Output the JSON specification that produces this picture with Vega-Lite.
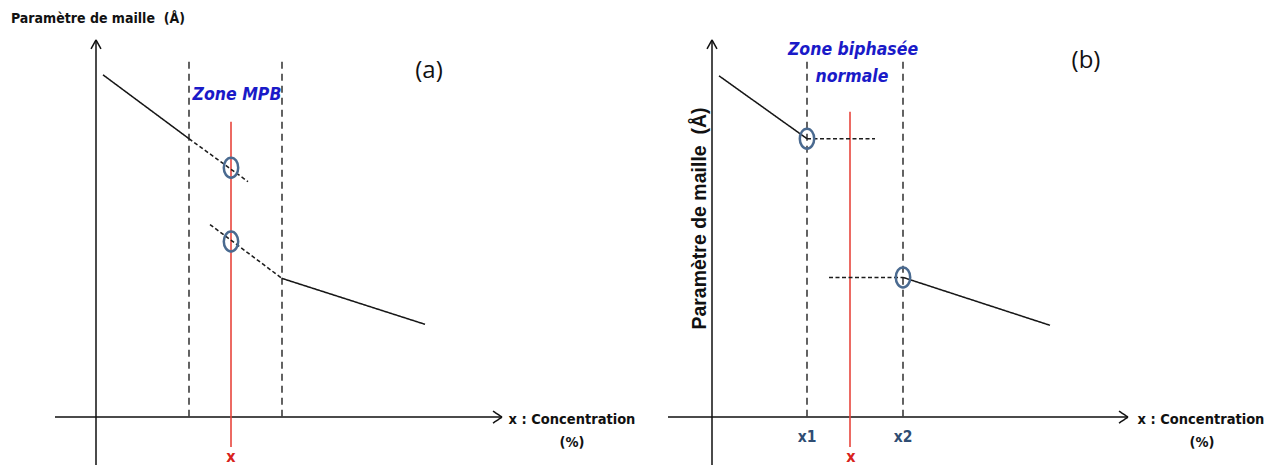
{
  "$schema": "https://vega.github.io/schema/vega-lite/v6.json",
  "autosize": {"type": "fit", "contains": "padding"},
  "width": 1280,
  "height": 466,
  "padding": 0,
  "background": "white",
  "config": {"view": {"stroke": null}},
  "datasets": {
    "segments": [
      {"panel": "a", "kind": "axe", "x": 96, "y": 466, "x2": 96, "y2": 40},
      {"panel": "a", "kind": "axe", "x": 91, "y": 49, "x2": 96, "y2": 40},
      {"panel": "a", "kind": "axe", "x": 101, "y": 49, "x2": 96, "y2": 40},
      {"panel": "a", "kind": "axe", "x": 55, "y": 418, "x2": 502, "y2": 418},
      {"panel": "a", "kind": "axe", "x": 493, "y": 412, "x2": 502, "y2": 418},
      {"panel": "a", "kind": "axe", "x": 493, "y": 424, "x2": 502, "y2": 418},
      {"panel": "a", "kind": "zone", "x": 189, "y": 62, "x2": 189, "y2": 418},
      {"panel": "a", "kind": "zone", "x": 282, "y": 62, "x2": 282, "y2": 418},
      {"panel": "a", "kind": "rouge", "x": 231, "y": 122, "x2": 231, "y2": 448},
      {"panel": "a", "kind": "courbe", "x": 103, "y": 75, "x2": 189, "y2": 139},
      {"panel": "a", "kind": "pointille", "x": 189, "y": 139, "x2": 248, "y2": 182},
      {"panel": "a", "kind": "pointille", "x": 210, "y": 225, "x2": 282, "y2": 279},
      {"panel": "a", "kind": "courbe", "x": 282, "y": 279, "x2": 425, "y2": 325},
      {"panel": "b", "kind": "axe", "x": 712, "y": 466, "x2": 712, "y2": 40},
      {"panel": "b", "kind": "axe", "x": 707, "y": 49, "x2": 712, "y2": 40},
      {"panel": "b", "kind": "axe", "x": 717, "y": 49, "x2": 712, "y2": 40},
      {"panel": "b", "kind": "axe", "x": 668, "y": 418, "x2": 1128, "y2": 418},
      {"panel": "b", "kind": "axe", "x": 1119, "y": 412, "x2": 1128, "y2": 418},
      {"panel": "b", "kind": "axe", "x": 1119, "y": 424, "x2": 1128, "y2": 418},
      {"panel": "b", "kind": "zone", "x": 807, "y": 62, "x2": 807, "y2": 418},
      {"panel": "b", "kind": "zone", "x": 903, "y": 62, "x2": 903, "y2": 418},
      {"panel": "b", "kind": "rouge", "x": 850, "y": 112, "x2": 850, "y2": 448},
      {"panel": "b", "kind": "courbe", "x": 719, "y": 76, "x2": 807, "y2": 139},
      {"panel": "b", "kind": "pointille", "x": 807, "y": 139, "x2": 875, "y2": 139},
      {"panel": "b", "kind": "pointille", "x": 829, "y": 278, "x2": 903, "y2": 278},
      {"panel": "b", "kind": "courbe", "x": 903, "y": 278, "x2": 1050, "y2": 326}
    ],
    "cercles": [
      {"panel": "a", "x": 231, "y": 168},
      {"panel": "a", "x": 231, "y": 242},
      {"panel": "b", "x": 807, "y": 139},
      {"panel": "b", "x": 903, "y": 278}
    ],
    "textes": [
      {"style": "titre", "x": 11, "y": 19, "label": "Paramètre de maille \u00a0(Å)"},
      {"style": "axe", "x": 572, "y": 421, "label": "x : Concentration"},
      {"style": "axe", "x": 572, "y": 444, "label": "(%)"},
      {"style": "axe", "x": 1201, "y": 421, "label": "x : Concentration"},
      {"style": "axe", "x": 1202, "y": 444, "label": "(%)"},
      {"style": "zone", "x": 237, "y": 95, "label": "Zone MPB"},
      {"style": "zone", "x": 853, "y": 50, "label": "Zone biphasée"},
      {"style": "zone", "x": 852, "y": 77, "label": "normale"},
      {"style": "panneau", "x": 429, "y": 71, "label": "(a)"},
      {"style": "panneau", "x": 1086, "y": 61, "label": "(b)"},
      {"style": "vertical", "x": 700, "y": 219, "label": "Paramètre de maille \u00a0(Å)"},
      {"style": "rouge", "x": 231, "y": 458, "label": "x"},
      {"style": "rouge", "x": 851, "y": 458, "label": "x"},
      {"style": "bornes", "x": 807, "y": 438, "label": "x1"},
      {"style": "bornes", "x": 903, "y": 438, "label": "x2"}
    ]
  },
  "encoding": {
    "x": {"field": "x", "type": "quantitative", "scale": {"domain": [0, 1280], "nice": false, "zero": false}, "axis": null},
    "y": {"field": "y", "type": "quantitative", "scale": {"domain": [0, 466], "nice": false, "zero": false, "reverse": true}, "axis": null}
  },
  "layer": [
    {
      "data": {"name": "segments"},
      "mark": {"type": "rule", "strokeCap": "butt"},
      "encoding": {
        "x2": {"field": "x2"},
        "y2": {"field": "y2"},
        "color": {"field": "kind", "type": "nominal", "legend": null,
          "scale": {"domain": ["axe", "courbe", "pointille", "zone", "rouge"], "range": ["#111111", "#161616", "#1c1c1c", "#3a3a3a", "#e8453c"]}},
        "strokeDash": {"field": "kind", "type": "nominal", "legend": null,
          "scale": {"domain": ["axe", "courbe", "pointille", "zone", "rouge"], "range": [[1, 0], [1, 0], [4, 2.5], [7, 5], [1, 0]]}},
        "strokeWidth": {"field": "kind", "type": "nominal", "legend": null,
          "scale": {"domain": ["axe", "courbe", "pointille", "zone", "rouge"], "range": [1.5, 1.6, 1.6, 1.6, 1.5]}}
      }
    },
    {
      "data": {"name": "cercles"},
      "mark": {"type": "point", "shape": "M -0.72 0 A 0.72 1 0 1 1 0.72 0 A 0.72 1 0 1 1 -0.72 0 Z", "size": 400, "filled": false, "stroke": "#4a6a90", "strokeWidth": 2.5, "opacity": 1}
    },
    {
      "data": {"name": "textes"},
      "transform": [{"filter": "datum.style === 'titre'"}],
      "mark": {"type": "text", "align": "left", "baseline": "middle", "font": "DejaVu Sans Condensed, sans-serif", "fontWeight": "bold", "fontSize": 14, "color": "#111111"},
      "encoding": {"text": {"field": "label"}}
    },
    {
      "data": {"name": "textes"},
      "transform": [{"filter": "datum.style === 'axe'"}],
      "mark": {"type": "text", "align": "center", "baseline": "middle", "font": "DejaVu Sans Condensed, sans-serif", "fontWeight": "bold", "fontSize": 14.5, "color": "#111111"},
      "encoding": {"text": {"field": "label"}}
    },
    {
      "data": {"name": "textes"},
      "transform": [{"filter": "datum.style === 'zone'"}],
      "mark": {"type": "text", "align": "center", "baseline": "middle", "font": "DejaVu Sans Condensed, sans-serif", "fontWeight": "bold", "fontStyle": "italic", "fontSize": 17.5, "color": "#1a1ac8"},
      "encoding": {"text": {"field": "label"}}
    },
    {
      "data": {"name": "textes"},
      "transform": [{"filter": "datum.style === 'panneau'"}],
      "mark": {"type": "text", "align": "center", "baseline": "middle", "font": "Open Sans, Liberation Sans, sans-serif", "fontSize": 24, "color": "#111111"},
      "encoding": {"text": {"field": "label"}}
    },
    {
      "data": {"name": "textes"},
      "transform": [{"filter": "datum.style === 'vertical'"}],
      "mark": {"type": "text", "align": "center", "baseline": "middle", "angle": 270, "font": "Liberation Sans, sans-serif", "fontWeight": "bold", "fontSize": 19.5, "color": "#111111"},
      "encoding": {"text": {"field": "label"}}
    },
    {
      "data": {"name": "textes"},
      "transform": [{"filter": "datum.style === 'rouge'"}],
      "mark": {"type": "text", "align": "center", "baseline": "middle", "font": "DejaVu Sans Condensed, sans-serif", "fontWeight": "bold", "fontSize": 16, "color": "#d8231c"},
      "encoding": {"text": {"field": "label"}}
    },
    {
      "data": {"name": "textes"},
      "transform": [{"filter": "datum.style === 'bornes'"}],
      "mark": {"type": "text", "align": "center", "baseline": "middle", "font": "DejaVu Sans Condensed, sans-serif", "fontWeight": "bold", "fontSize": 15.5, "color": "#2f4d73"},
      "encoding": {"text": {"field": "label"}}
    }
  ]
}
